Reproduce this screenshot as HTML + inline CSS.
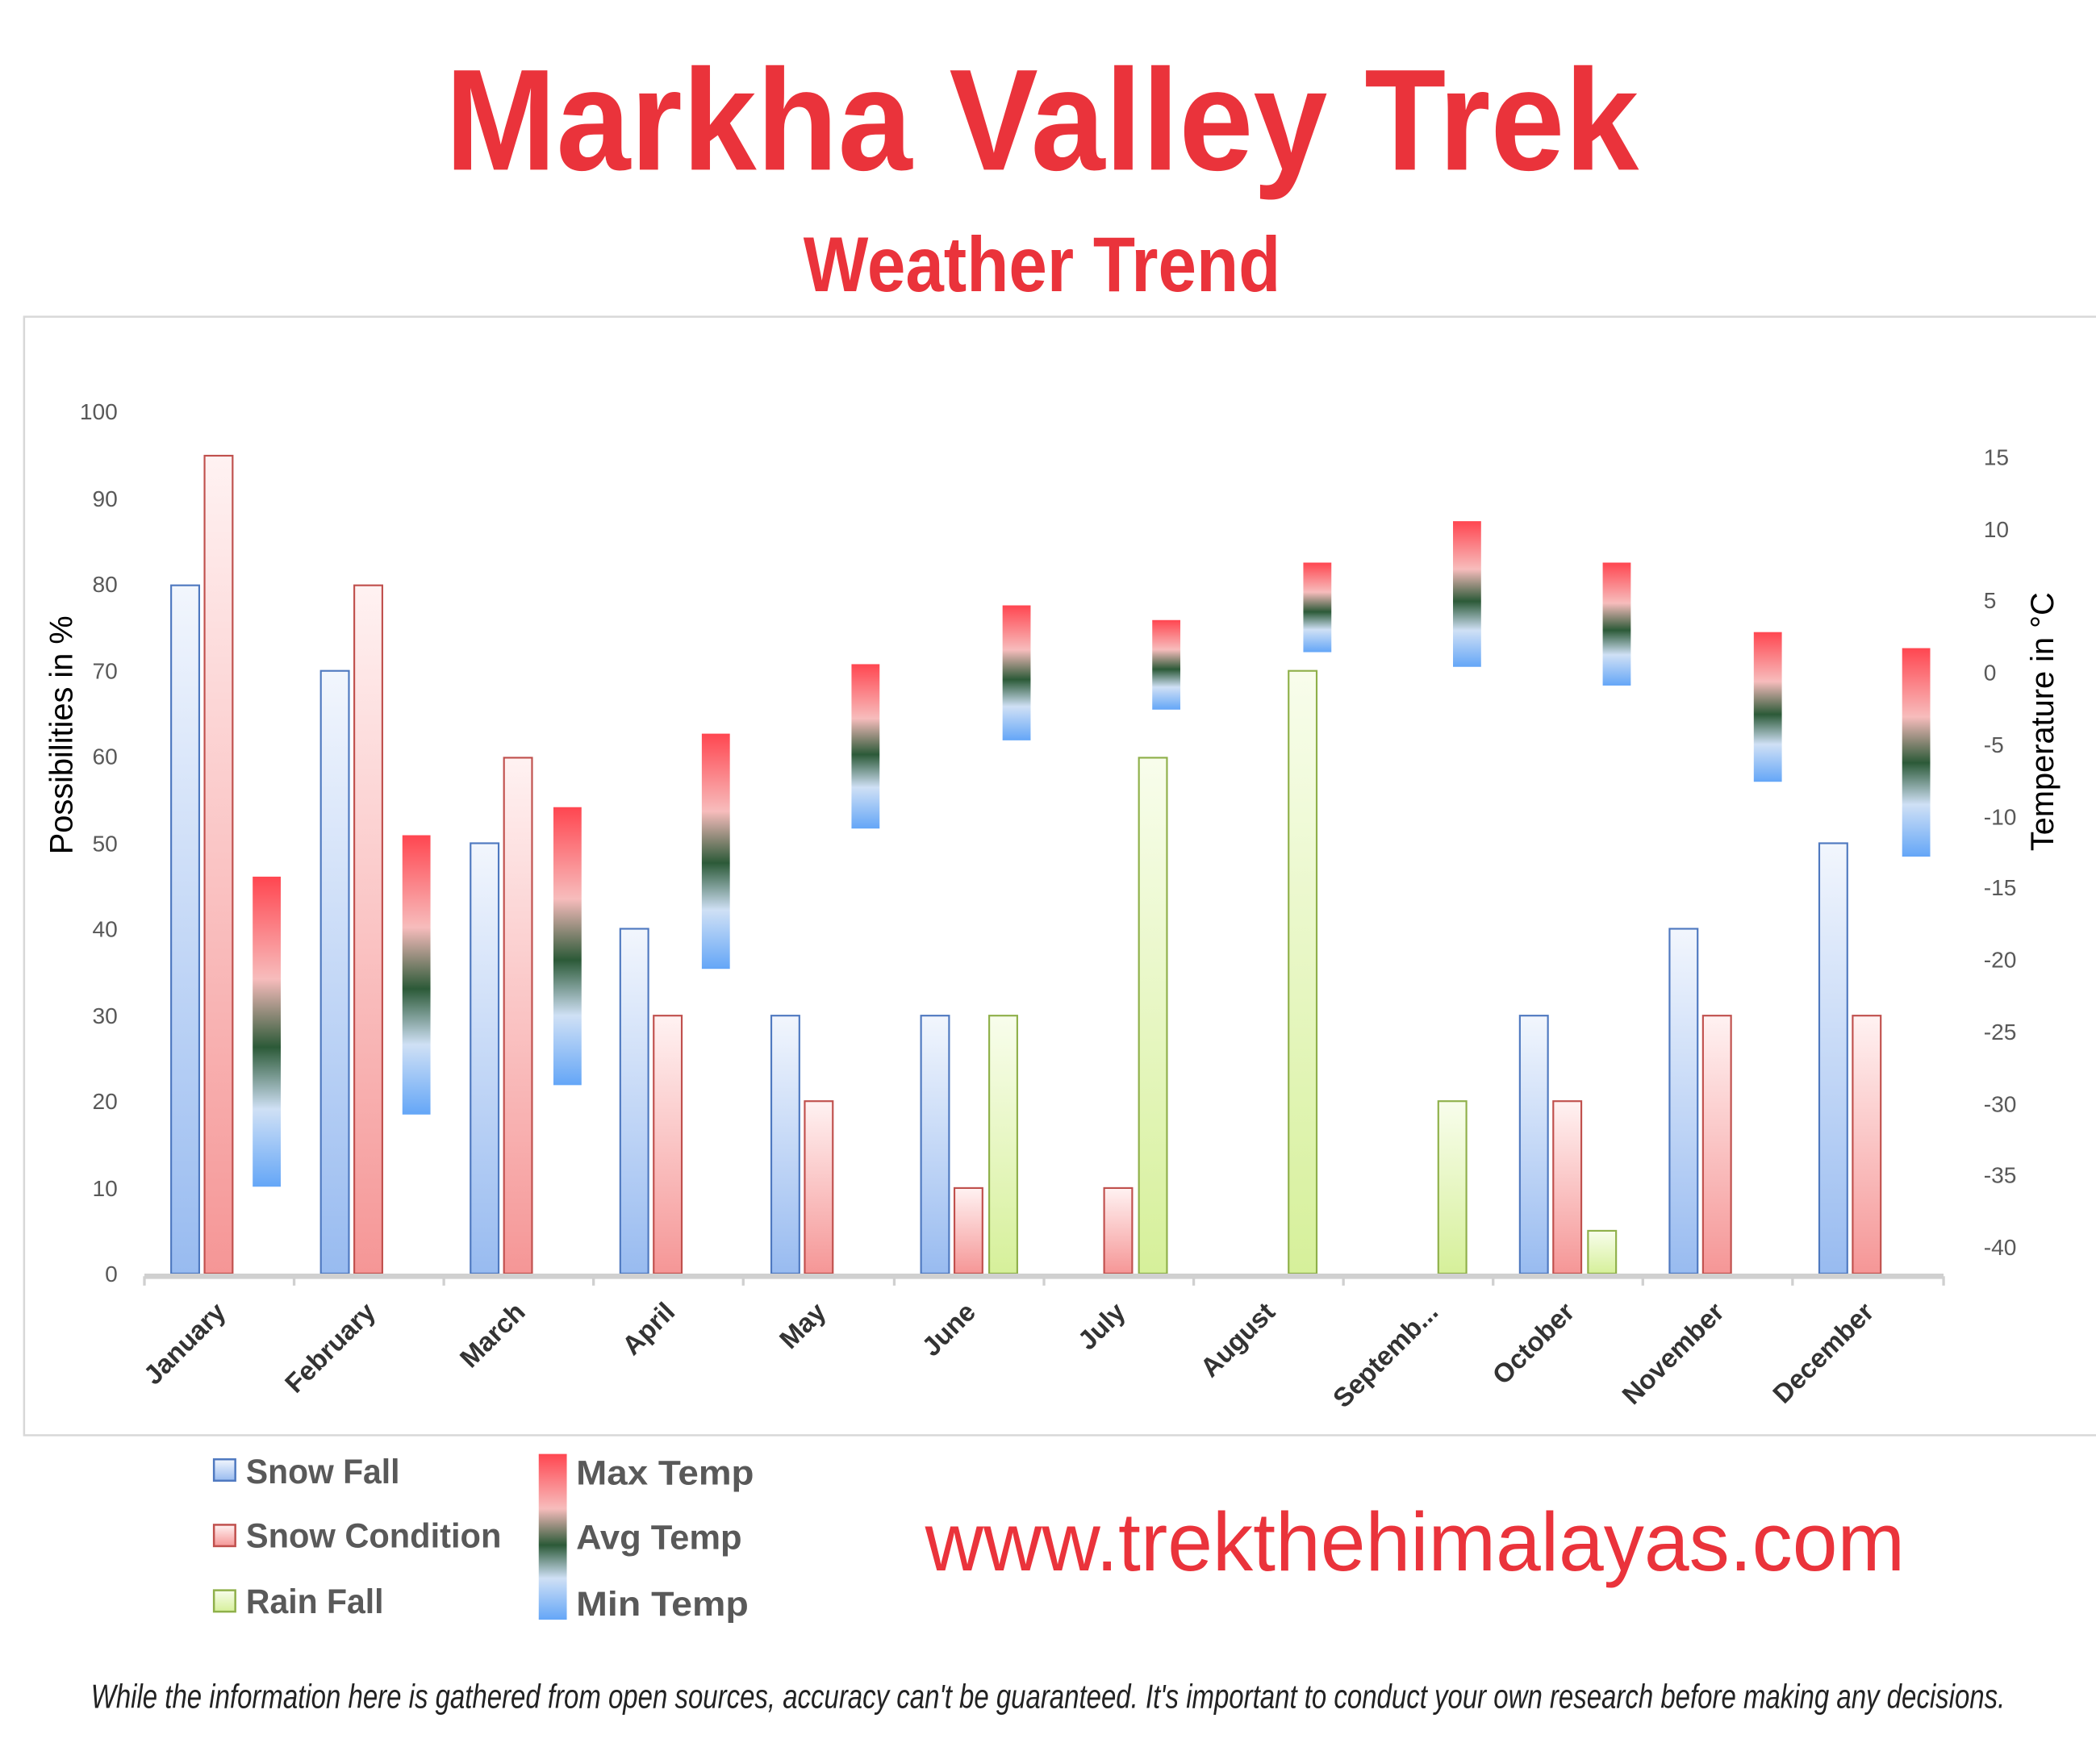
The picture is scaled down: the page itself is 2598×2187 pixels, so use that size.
<!DOCTYPE html>
<html><head><meta charset="utf-8"><style>html,body{margin:0;padding:0;background:#fff}svg{display:block}</style></head>
<body>
<svg width="2598" height="2187" viewBox="0 0 1568 1320" xmlns="http://www.w3.org/2000/svg" font-family="Liberation Sans, sans-serif">
<defs>
<linearGradient id="tg" x1="0" y1="0" x2="0" y2="1">
<stop offset="0" stop-color="#ff4650"/><stop offset="0.33" stop-color="#f7bcbc"/><stop offset="0.55" stop-color="#2c5a38"/><stop offset="0.75" stop-color="#cfe0f5"/><stop offset="1" stop-color="#64a6f7"/></linearGradient>
<linearGradient id="sf" x1="0" y1="0" x2="0" y2="1"><stop offset="0" stop-color="#f2f6fd"/><stop offset="1" stop-color="#98bbf0"/></linearGradient>
<linearGradient id="sc" x1="0" y1="0" x2="0" y2="1"><stop offset="0" stop-color="#fff2f2"/><stop offset="1" stop-color="#f59696"/></linearGradient>
<linearGradient id="rf" x1="0" y1="0" x2="0" y2="1"><stop offset="0" stop-color="#f8fdec"/><stop offset="1" stop-color="#d6f09a"/></linearGradient>
</defs>
<rect width="1568" height="1320" fill="#fff"/>
<text x="333" y="127" font-size="108" font-weight="bold" fill="#ea333b" textLength="893" lengthAdjust="spacingAndGlyphs">Markha Valley Trek</text>
<text x="601" y="218" font-size="58" font-weight="bold" fill="#ea333b" textLength="357" lengthAdjust="spacingAndGlyphs">Weather Trend</text>
<rect x="18" y="237" width="1560" height="837" fill="none" stroke="#d8d8d8" stroke-width="1.5"/>
<g font-size="17" fill="#595959" text-anchor="end">
<text x="88" y="959">0</text><text x="88" y="895">10</text><text x="88" y="830">20</text><text x="88" y="766">30</text><text x="88" y="701">40</text><text x="88" y="637">50</text><text x="88" y="572">60</text><text x="88" y="508">70</text><text x="88" y="443">80</text><text x="88" y="379">90</text><text x="88" y="314">100</text>
</g>
<g font-size="17" fill="#595959">
<text x="1484" y="348">15</text><text x="1484" y="402">10</text><text x="1484" y="455">5</text><text x="1484" y="509">0</text><text x="1484" y="563">-5</text><text x="1484" y="617">-10</text><text x="1484" y="670">-15</text><text x="1484" y="724">-20</text><text x="1484" y="778">-25</text><text x="1484" y="832">-30</text><text x="1484" y="885">-35</text><text x="1484" y="939">-40</text>
</g>
<text transform="translate(54,550) rotate(-90)" text-anchor="middle" font-size="24" fill="#000">Possibilities in %</text>
<text transform="translate(1536,540) rotate(-90)" text-anchor="middle" font-size="24" fill="#000">Temperature in °C</text>
<g stroke-width="1.3">
<g fill="url(#sf)" stroke="#4f79c0">
<rect x="128" y="438" width="21" height="515"/>
<rect x="240" y="502" width="21" height="451"/>
<rect x="352" y="631" width="21" height="322"/>
<rect x="464" y="695" width="21" height="258"/>
<rect x="577" y="760" width="21" height="193"/>
<rect x="689" y="760" width="21" height="193"/>
<rect x="1137" y="760" width="21" height="193"/>
<rect x="1249" y="695" width="21" height="258"/>
<rect x="1361" y="631" width="21" height="322"/>
</g>
<g fill="url(#sc)" stroke="#c0504d">
<rect x="153" y="341" width="21" height="612"/>
<rect x="265" y="438" width="21" height="515"/>
<rect x="377" y="567" width="21" height="386"/>
<rect x="489" y="760" width="21" height="193"/>
<rect x="602" y="824" width="21" height="129"/>
<rect x="714" y="889" width="21" height="64"/>
<rect x="826" y="889" width="21" height="64"/>
<rect x="1162" y="824" width="21" height="129"/>
<rect x="1274" y="760" width="21" height="193"/>
<rect x="1386" y="760" width="21" height="193"/>
</g>
<g fill="url(#rf)" stroke="#8fb04a">
<rect x="740" y="760" width="21" height="193"/>
<rect x="852" y="567" width="21" height="386"/>
<rect x="964" y="502" width="21" height="451"/>
<rect x="1076" y="824" width="21" height="129"/>
<rect x="1188" y="921" width="21" height="32"/>
</g>
</g>
<g fill="url(#tg)">
<rect x="189" y="656" width="21" height="232"/>
<rect x="301" y="625" width="21" height="209"/>
<rect x="414" y="604" width="21" height="208"/>
<rect x="525" y="549" width="21" height="176"/>
<rect x="637" y="497" width="21" height="123"/>
<rect x="750" y="453" width="21" height="101"/>
<rect x="862" y="464" width="21" height="67"/>
<rect x="975" y="421" width="21" height="67"/>
<rect x="1087" y="390" width="21" height="109"/>
<rect x="1199" y="421" width="21" height="92"/>
<rect x="1312" y="473" width="21" height="112"/>
<rect x="1423" y="485" width="21" height="156"/>
</g>
<line x1="108" y1="955" x2="1454" y2="955" stroke="#d0d0d0" stroke-width="4"/>
<g stroke="#d0d0d0" stroke-width="2">
<line x1="108" y1="955" x2="108" y2="962"/><line x1="220" y1="955" x2="220" y2="962"/><line x1="332" y1="955" x2="332" y2="962"/><line x1="444" y1="955" x2="444" y2="962"/><line x1="556" y1="955" x2="556" y2="962"/><line x1="669" y1="955" x2="669" y2="962"/><line x1="781" y1="955" x2="781" y2="962"/><line x1="893" y1="955" x2="893" y2="962"/><line x1="1005" y1="955" x2="1005" y2="962"/><line x1="1117" y1="955" x2="1117" y2="962"/><line x1="1229" y1="955" x2="1229" y2="962"/><line x1="1341" y1="955" x2="1341" y2="962"/><line x1="1454" y1="955" x2="1454" y2="962"/>
</g>
<g font-size="20" font-weight="bold" fill="#333" text-anchor="end">
<text transform="translate(170,983) rotate(-45)">January</text>
<text transform="translate(282,983) rotate(-45)">February</text>
<text transform="translate(394,983) rotate(-45)">March</text>
<text transform="translate(506,983) rotate(-45)">April</text>
<text transform="translate(619,983) rotate(-45)">May</text>
<text transform="translate(731,983) rotate(-45)">June</text>
<text transform="translate(843,983) rotate(-45)">July</text>
<text transform="translate(955,983) rotate(-45)">August</text>
<text transform="translate(1077,983) rotate(-45)">Septemb...</text>
<text transform="translate(1179,983) rotate(-45)">October</text>
<text transform="translate(1291,983) rotate(-45)">November</text>
<text transform="translate(1403,983) rotate(-45)">December</text>
</g>
<rect x="160" y="1092" width="16" height="16" fill="url(#sf)" stroke="#4f79c0" stroke-width="1.5"/>
<rect x="160" y="1141" width="16" height="16" fill="url(#sc)" stroke="#c0504d" stroke-width="1.5"/>
<rect x="160" y="1190" width="16" height="16" fill="url(#rf)" stroke="#8fb04a" stroke-width="1.5"/>
<rect x="403" y="1088" width="21" height="124" fill="url(#tg)"/>
<g font-size="26" font-weight="bold" fill="#595959">
<text x="184" y="1110" textLength="115" lengthAdjust="spacingAndGlyphs">Snow Fall</text><text x="184" y="1158" textLength="191" lengthAdjust="spacingAndGlyphs">Snow Condition</text><text x="184" y="1207" textLength="103" lengthAdjust="spacingAndGlyphs">Rain Fall</text>
<text x="431" y="1111" textLength="133" lengthAdjust="spacingAndGlyphs">Max Temp</text><text x="431" y="1159" textLength="124" lengthAdjust="spacingAndGlyphs">Avg Temp</text><text x="431" y="1209" textLength="129" lengthAdjust="spacingAndGlyphs">Min Temp</text>
</g>
<text x="692" y="1175" font-size="62" fill="#ea333b" textLength="733" lengthAdjust="spacingAndGlyphs">www.trekthehimalayas.com</text>
<text x="68" y="1278" font-size="25" font-style="italic" fill="#222" textLength="1432" lengthAdjust="spacingAndGlyphs">While the information here is gathered from open sources, accuracy can't be guaranteed. It's important to conduct your own research before making any decisions.</text>
</svg>
</body></html>
